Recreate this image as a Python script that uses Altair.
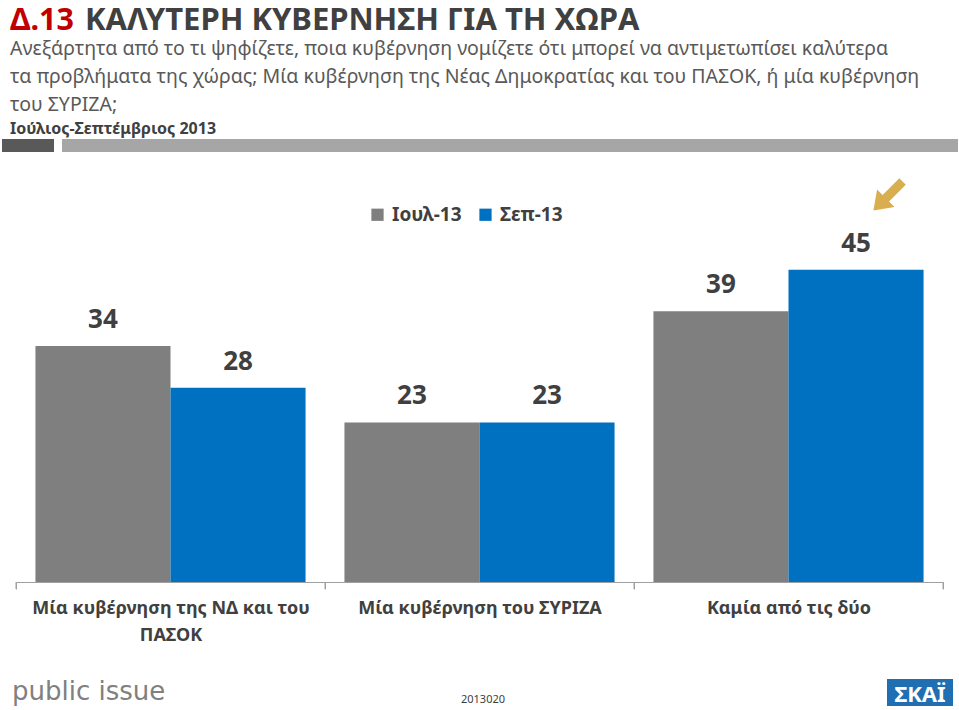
import altair as alt
import pandas as pd

# ---- data ----
categories = ["Μία κυβέρνηση της ΝΔ και του|ΠΑΣΟΚ", "Μία κυβέρνηση του ΣΥΡΙΖΑ", "Καμία από τις δύο"]
series = ["Ιουλ-13", "Σεπ-13"]
jul_values = [34, 23, 39]
sep_values = [28, 23, 45]
series_colors = ["#7F7F7F", "#0070C0"]

title_code = "Δ.13"
title_text = "ΚΑΛΥΤΕΡΗ ΚΥΒΕΡΝΗΣΗ ΓΙΑ ΤΗ ΧΩΡΑ"
subtitle_lines = [
    "Ανεξάρτητα από το τι ψηφίζετε, ποια κυβέρνηση νομίζετε ότι μπορεί να αντιμετωπίσει καλύτερα",
    "τα προβλήματα της χώρας; Μία κυβέρνηση της Νέας Δημοκρατίας και του ΠΑΣΟΚ, ή μία κυβέρνηση",
    "του ΣΥΡΙΖΑ;",
]
period_text = "Ιούλιος-Σεπτέμβριος 2013"
source_text = "public issue"
code_text = "2013020"
logo_text = "ΣΚΑΪ"

FONT = "Noto Sans"
AXIS_GREY = "#A0A0A0"

rows = []
for c, a, b in zip(categories, jul_values, sep_values):
    rows.append({"category": c, "series": series[0], "value": a})
    rows.append({"category": c, "series": series[1], "value": b})
df = pd.DataFrame(rows)

x_scale = alt.Scale(domain=categories, paddingInner=0, paddingOuter=0)
x_axis = alt.Axis(
    title=None,
    labelAngle=0,
    labelExpr="split(datum.label, '|')",
    labelFont=FONT,
    labelFontSize=18,
    labelFontWeight="bold",
    labelColor="#404040",
    labelLineHeight=27,
    labelPadding=10,
    labelLimit=400,
    ticks=True,
    tickBand="extent",
    tickSize=7,
    tickColor=AXIS_GREY,
    domainColor=AXIS_GREY,
    grid=False,
    gridOpacity=0,
)
x_enc = alt.X("category:N", sort=categories, scale=x_scale, axis=x_axis)
xoff_enc = alt.XOffset("series:N", sort=series, scale=alt.Scale(paddingOuter=0.144, paddingInner=0))
y_enc = alt.Y("value:Q", scale=alt.Scale(domain=[0, 59.37]), axis=None)
color_enc = alt.Color(
    "series:N",
    sort=series,
    scale=alt.Scale(domain=series, range=series_colors),
    legend=alt.Legend(
        title=None,
        orient="none",
        legendX=352,
        legendY=35,
        direction="horizontal",
        symbolType="square",
        symbolSize=150,
        symbolStrokeWidth=0,
        labelFont=FONT,
        labelFontSize=19,
        labelFontWeight="bold",
        labelColor="#404040",
        labelOffset=5,
        columnPadding=14,
        padding=0,
    ),
)

bars = alt.Chart(df).mark_bar().encode(x=x_enc, xOffset=xoff_enc, y=y_enc, color=color_enc)
values = alt.Chart(df).mark_text(
    dy=-13, baseline="bottom", font=FONT, fontSize=26, fontWeight="bold", color="#404040"
).encode(x=x_enc, xOffset=xoff_enc, y=y_enc, text="value:Q")

# category boundary ticks below the baseline (same shared axis definition)
cat_df = pd.DataFrame({"category": categories})
ticks_start = alt.Chart(cat_df).mark_rule(color=AXIS_GREY, strokeWidth=1).encode(
    x=alt.X("category:N", sort=categories, scale=x_scale, bandPosition=0, axis=x_axis),
    y=alt.value(412), y2=alt.value(419),
)
ticks_end = alt.Chart(cat_df.tail(1)).mark_rule(color=AXIS_GREY, strokeWidth=1).encode(
    x=alt.X("category:N", sort=categories, scale=x_scale, bandPosition=1, axis=x_axis),
    y=alt.value(412), y2=alt.value(419),
)


# ---- header / footer decorations (relative to plot origin) ----
def text_layer(text, x, y, size, color, weight="normal", align="left", font=FONT):
    return alt.Chart(pd.DataFrame({"t": [text]})).mark_text(
        align=align, baseline="alphabetic", font=font, fontSize=size, fontWeight=weight, color=color
    ).encode(x=alt.value(x), y=alt.value(y), text="t:N")


header = [
    text_layer(title_code, -6, -140, 30.5, "#C00000", "bold"),
    text_layer(title_text, 69, -140, 31, "#404040", "bold"),
    text_layer(subtitle_lines[0], -6, -115, 19.5, "#595959"),
    text_layer(subtitle_lines[1], -6, -87, 19.5, "#595959"),
    text_layer(subtitle_lines[2], -6, -59, 19.5, "#595959"),
    text_layer(period_text, -6, -36, 16, "#404040", "bold"),
]

band1 = alt.Chart(pd.DataFrame({"a": [0]})).mark_rect(color="#595959").encode(
    x=alt.value(-14), x2=alt.value(38), y=alt.value(-31), y2=alt.value(-18)
)
band2 = alt.Chart(pd.DataFrame({"a": [0]})).mark_rect(color="#A6A6A6").encode(
    x=alt.value(46), x2=alt.value(942), y=alt.value(-31), y2=alt.value(-18)
)

arrow_path = "M -0.22 -1 L 0.22 -1 L 0.22 0.15 L 0.6 0.15 L 0 1 L -0.6 0.15 L -0.22 0.15 Z"
arrow = alt.Chart(pd.DataFrame({"a": [0]})).mark_point(
    shape=arrow_path, filled=True, color="#D9AE4E", opacity=1, size=1700, angle=45, strokeWidth=0
).encode(x=alt.value(872), y=alt.value(26))

footer = [
    text_layer(source_text, -4, 530, 26, "#808080", "normal", font="DejaVu Sans"),
    text_layer(code_text, 467, 533, 11, "#404040", align="center"),
]
logo_rect = alt.Chart(pd.DataFrame({"a": [0]})).mark_rect(color="#1F6FB2").encode(
    x=alt.value(871), x2=alt.value(937), y=alt.value(509), y2=alt.value(536)
)
logo_txt = text_layer(logo_text, 904, 532, 22, "#FFFFFF", "bold", align="center")

chart = alt.layer(
    bars, values, ticks_start, ticks_end, band1, band2, arrow, *header, *footer, logo_rect, logo_txt
).properties(
    width=927,
    height=412,
    background="white",
    autosize=alt.AutoSizeParams(type="none"),
    padding={"left": 16, "top": 170, "right": 16, "bottom": 128},
).configure_view(stroke=None).configure_axis(grid=False)

chart.save("out.html", embed_options={"renderer": "svg", "actions": False})
